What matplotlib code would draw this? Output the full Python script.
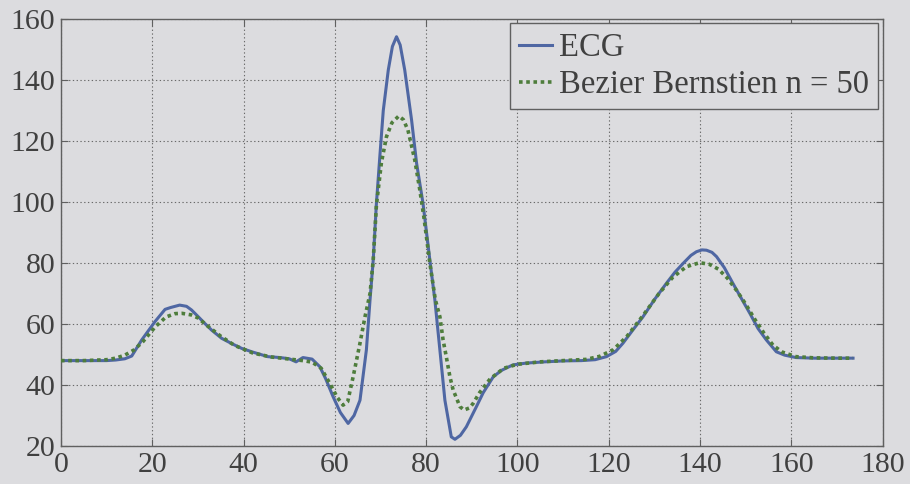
import matplotlib
matplotlib.use("Agg")
import matplotlib.pyplot as plt

# ECG trace (sample index vs amplitude)
ecg_x = [0, 5, 10, 12, 14, 15.5, 17.7, 20.6, 22.8, 24, 26, 27.5, 28.6, 30, 31.5, 33,
         35.2, 37.5, 39.6, 42, 45.3, 48, 50, 51.5, 53, 55, 56.7, 58, 59.6, 61.2, 62.9,
         64.2, 65.5, 66.9, 67.7, 68.4, 69.1, 69.9, 70.6, 71.7, 72.6, 73.5, 74.3, 75.3,
         76.8, 77.9, 79.3, 80.8, 81.9, 83, 84.1, 85.5, 86.3, 87.5, 88.8, 91, 92.5, 94.7,
         96.5, 99, 102, 106, 110, 114, 117, 119.5, 121.5, 123.1, 125, 127.5, 130, 132.6,
         134.5, 136.3, 138, 139.2, 140.4, 141.4, 142.6, 143.6, 145.3, 147.2, 149, 150.9,
         152.7, 154.5, 156.7, 158.5, 161, 165, 170, 173.5]
ecg_y = [48, 48, 48, 48.2, 48.6, 49.5, 54.8, 60.8, 64.8, 65.4, 66.2, 65.8, 64.6, 62.5,
         60.2, 58, 55.3, 53.5, 52, 50.8, 49.3, 49, 48.6, 47.6, 49, 48.5, 46, 42, 36.2, 31,
         27.4, 30, 35, 51.5, 67.9, 81, 99.6, 116, 130, 143.3, 151, 154.2, 151.5, 143.3,
         126.9, 112.7, 99.6, 81, 67.9, 51.5, 35, 23, 22.2, 23.5, 26.3, 32.9, 37.5, 42.7,
         44.8, 46.6, 47.2, 47.6, 47.9, 48, 48.3, 49.3, 51, 53.7, 57.5, 62.4, 68, 73.3,
         77, 79.9, 82.5, 83.7, 84.3, 84.2, 83.5, 82.1, 78.5, 73.3, 68.5, 63.5, 58.5, 54.8,
         50.9, 49.8, 49, 48.8, 48.8, 48.8]

# Bezier / Bernstein approximation, n = 50
bez_x = [0, 5, 10, 12, 14, 16, 18, 20.6, 23, 25, 26.5, 28.5, 30, 32, 35, 38, 42, 46, 50,
         53, 55, 57, 58.9, 60.5, 61.8, 62.8, 64, 65.5, 66.6, 67.7, 68.4, 69.1, 70.2, 71.3,
         72.5, 74, 75, 76, 77.5, 78.6, 79.5, 80.8, 82, 83, 83.7, 84.4, 85.2, 85.9, 87.4,
         88.3, 89.5, 90.3, 91.7, 94, 97, 100, 105, 110, 115, 118, 121, 124, 127.5, 131,
         134, 137, 139.9, 142, 144, 146, 148, 150, 152, 154, 156, 158, 161, 165, 170, 173.5]
bez_y = [48, 48, 48.3, 48.8, 49.8, 51.5, 54.3, 59, 62.3, 63.4, 63.5, 63, 62, 59.5, 56, 53,
         50.5, 49.2, 48.5, 48, 47.5, 45.5, 40.5, 36, 33.4, 34.5, 42.7, 53.7, 62.4, 70, 81,
         99, 113, 121.4, 126, 128.2, 127, 123.6, 113.8, 104, 95, 80, 68, 62.4, 54.8, 49.3,
         42.7, 38.4, 32.9, 31.8, 32.5, 34, 37.5, 42, 45.5, 46.8, 47.6, 48, 48.4, 49.4, 51.6,
         56, 62.8, 70, 75.3, 78.8, 80.1, 79.6, 78, 75, 71, 66.5, 61.5, 57, 53, 50.8, 49.3,
         48.9, 48.8, 48.8]

x_ticks = [0, 20, 40, 60, 80, 100, 120, 140, 160, 180]
y_ticks = [20, 40, 60, 80, 100, 120, 140, 160]

bg = "#dcdcdf"
ink = "#404040"

plt.rcParams["font.family"] = ["Liberation Serif", "DejaVu Serif"]

fig = plt.figure(figsize=(9.1, 4.84), dpi=100, facecolor=bg)
ax = fig.add_axes([0.067, 0.0785, 0.903, 0.8822])
ax.set_facecolor(bg)

ax.plot(ecg_x, ecg_y, color="#4f67a3", lw=2.2, label="ECG", zorder=3)
ax.plot(bez_x, bez_y, color="#4e7d3c", lw=2.6, ls=(0, (1, 1.0)),
        label="Bezier Bernstien n = 50", zorder=4)

ax.set_xlim(0, 180)
ax.set_ylim(20, 160)
ax.set_xticks(x_ticks)
ax.set_yticks(y_ticks)

ax.grid(True, color="#6a6a6a", ls=(0, (1.2, 2.2)), lw=0.8)
for s in ax.spines.values():
    s.set_color("#606060")
    s.set_linewidth(1.0)
ax.tick_params(direction="in", length=5, width=0.8, color="#606060",
               top=True, right=True, labelsize=21.5, labelcolor=ink, pad=4)

leg = ax.legend(loc="upper right", fontsize=23.5, frameon=True, fancybox=False,
                handlelength=1.0, handletextpad=0.2, borderpad=0.28,
                labelspacing=0.2, borderaxespad=0.0, bbox_to_anchor=(0.994, 0.99))
leg.get_frame().set_edgecolor("#606060")
leg.get_frame().set_facecolor(bg)
leg.get_frame().set_linewidth(1.0)
leg.get_frame().set_alpha(1)
for t in leg.get_texts():
    t.set_color(ink)

fig.savefig("out.png", dpi=100, facecolor=bg)
